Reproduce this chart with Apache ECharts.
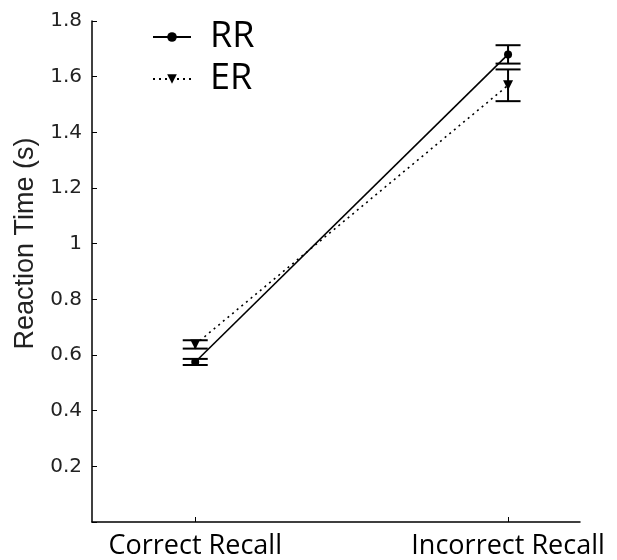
<!DOCTYPE html>
<html>
<head>
<meta charset="utf-8">
<script src="https://cdn.jsdelivr.net/npm/echarts@6/dist/echarts.min.js"></script>
<style>html,body{margin:0;padding:0;background:#fff;}#c{width:617px;height:560px;}</style>
</head>
<body>
<div id="c"></div>
<script>
const categories = ['Correct Recall', 'Incorrect Recall'];
const catPos = [1, 2];
const rrMean = [0.575, 1.68];
const rrErr = [0.011, 0.033];
const erMean = [0.638, 1.569];
const erErr = [0.015, 0.057];
const yTicks = [0.2, 0.4, 0.6, 0.8, 1, 1.2, 1.4, 1.6, 1.8];

const chart = echarts.init(document.getElementById('c'));

function errData(means, errs) {
  return catPos.map((x, i) => [x, means[i] - errs[i], means[i] + errs[i]]);
}
function errRender(params, api) {
  const x = api.value(0);
  const lo = api.coord([x, api.value(1)]);
  const hi = api.coord([x, api.value(2)]);
  const hw = 12.5;
  const st = { stroke: '#000', lineWidth: 2 };
  return {
    type: 'group',
    children: [
      { type: 'line', shape: { x1: lo[0], y1: lo[1], x2: hi[0], y2: hi[1] }, style: st },
      { type: 'line', shape: { x1: lo[0] - hw, y1: lo[1], x2: lo[0] + hw, y2: lo[1] }, style: st },
      { type: 'line', shape: { x1: hi[0] - hw, y1: hi[1], x2: hi[0] + hw, y2: hi[1] }, style: st }
    ]
  };
}

chart.setOption({
  animation: false,
  backgroundColor: '#fff',
  grid: { left: 92, right: 37, top: 21, bottom: 38 },
  legend: {
    orient: 'vertical',
    left: 147,
    top: 11,
    itemWidth: 38,
    itemHeight: 12,
    itemGap: 0,
    data: ['RR', 'ER'],
    textStyle: { fontSize: 36, color: '#000', fontFamily: 'Open Sans', padding: [0, 0, 0, 14], lineHeight: 42 }
  },
  xAxis: {
    type: 'value',
    min: 0.67,
    max: 2.23,
    splitLine: { show: false },
    axisLine: { lineStyle: { color: '#000', width: 1.5 } },
    axisTick: { inside: true, length: 5, customValues: catPos, lineStyle: { color: '#000' } },
    axisLabel: {
      customValues: catPos,
      margin: 11,
      fontSize: 27,
      color: '#000',
      fontFamily: 'Open Sans',
      formatter: v => categories[catPos.indexOf(Math.round(v))] || ''
    }
  },
  yAxis: {
    type: 'value',
    min: 0,
    max: 1.8,
    interval: 0.2,
    name: 'Reaction Time (s)',
    nameLocation: 'middle',
    nameGap: 52,
    nameTextStyle: { fontSize: 27, color: '#222', fontFamily: 'Liberation Sans', padding: [0, 0, 0, 56] },
    splitLine: { show: false },
    axisLine: { lineStyle: { color: '#000', width: 1.5 } },
    axisTick: { inside: true, length: 5, lineStyle: { color: '#000' } },
    axisLabel: {
      fontSize: 20,
      color: '#222',
      margin: 10,
      fontFamily: 'DejaVu Sans',
      formatter: v => (yTicks.some(t => Math.abs(t - v) < 1e-6) ? String(+v.toFixed(1)) : '')
    }
  },
  series: [
    {
      name: 'RR',
      type: 'line',
      data: catPos.map((x, i) => [x, rrMean[i]]),
      symbol: 'circle',
      symbolSize: 8,
      itemStyle: { color: '#000' },
      lineStyle: { color: '#000', width: 1.6, type: 'solid' },
      z: 3
    },
    {
      name: 'ER',
      type: 'line',
      data: catPos.map((x, i) => [x, erMean[i]]),
      symbol: 'triangle',
      symbolRotate: 180,
      symbolSize: 10,
      itemStyle: { color: '#000' },
      lineStyle: { color: '#000', width: 1.6, type: [2, 4] },
      z: 3
    },
    {
      type: 'custom',
      renderItem: errRender,
      data: errData(rrMean, rrErr),
      z: 2
    },
    {
      type: 'custom',
      renderItem: errRender,
      data: errData(erMean, erErr),
      z: 2
    }
  ]
});
</script>
</body>
</html>
